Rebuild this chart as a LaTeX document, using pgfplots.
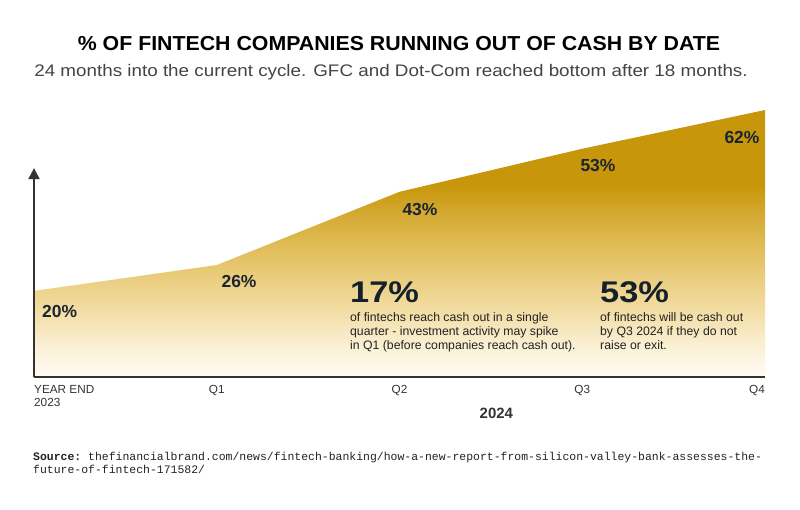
\documentclass[border=0pt]{standalone}
\usepackage{pgfplots}
\pgfplotsset{compat=1.18}
\usetikzlibrary{arrows.meta}
\usepackage{graphicx}
\usepackage{fontspec}
\setmainfont{Liberation Sans}
\setmonofont{Liberation Mono}
\definecolor{gold}{HTML}{C8960A}
\definecolor{gA}{HTML}{FFFCF5}
\definecolor{gB}{HTML}{FAEFD2}
\definecolor{gC}{HTML}{F2DDA4}
\definecolor{gD}{HTML}{EACD7E}
\definecolor{gE}{HTML}{E0BC55}
\definecolor{gF}{HTML}{D4A830}
\definecolor{axgray}{HTML}{333333}
\definecolor{subgray}{HTML}{444444}
\definecolor{numdark}{HTML}{1A2530}
\definecolor{bigdark}{HTML}{14212B}
\definecolor{txtdark}{HTML}{222222}
\pgfdeclareverticalshading{goldfade}{100bp}{color(0bp)=(gA); color(25bp)=(gA); color(31.2bp)=(gB); color(37.4bp)=(gC); color(43.6bp)=(gD); color(49.8bp)=(gE); color(56bp)=(gF); color(61bp)=(gold); color(100bp)=(gold)}
\newcommand\fs[1]{\fontsize{#1}{#1}\selectfont}
\begin{document}
\begin{tikzpicture}
\path[use as bounding box] (0,0) rectangle (800bp,510bp);
\node[font=\bfseries\fs{20.3}, inner sep=0] at (399bp,466bp) {\scalebox{1.054}[1]{\% OF FINTECH COMPANIES RUNNING OUT OF CASH BY DATE}};
\node[font=\fs{16.8}, text=subgray, inner sep=0] at (391bp,438bp) {\scalebox{1.125}[1]{24 months into the current cycle. GFC and Dot-Com reached bottom after 18 months.}};
\begin{axis}[at={(34bp,133bp)}, anchor=south west, scale only axis, width=731bp, height=267bp,
  xmin=0, xmax=4, ymin=0, ymax=62, hide axis, clip=false]
\addplot[draw=none, shading=goldfade] coordinates {(0,20) (1,26) (2,43) (3,53) (4,62)} \closedcycle;
\draw[line width=2.2bp, axgray] (axis cs:0,0) -- (axis cs:4,0);
\draw[line width=2bp, axgray, -{Triangle[width=11bp,length=11bp]}] (axis cs:0,0) -- (axis cs:0,48.5);
% data labels
\node[anchor=west, font=\bfseries\fs{17.5}, text=numdark, inner sep=0] at (axis cs:0.044,15.3) {20\%};
\node[font=\bfseries\fs{17.5}, text=numdark, inner sep=0] at (axis cs:1.122,22.1) {26\%};
\node[font=\bfseries\fs{17.5}, text=numdark, inner sep=0] at (axis cs:2.112,39.0) {43\%};
\node[font=\bfseries\fs{17.5}, text=numdark, inner sep=0] at (axis cs:3.086,49.0) {53\%};
\node[font=\bfseries\fs{17.5}, text=numdark, inner sep=0] at (axis cs:3.874,55.7) {62\%};
% big annotations
\node[anchor=base west, font=\bfseries\fs{30}, text=bigdark, inner sep=0] at (axis cs:1.729,17.2) {\scalebox{1.15}[1]{17\%}};
\node[anchor=base west, font=\fs{12.3}, text=txtdark, inner sep=0] at (axis cs:1.729,13.0) {of fintechs reach cash out in a single};
\node[anchor=base west, font=\fs{12.3}, text=txtdark, inner sep=0] at (axis cs:1.729,9.64) {quarter - investment activity may spike};
\node[anchor=base west, font=\fs{12.3}, text=txtdark, inner sep=0] at (axis cs:1.729,6.27) {in Q1 (before companies reach cash out).};
\node[anchor=base west, font=\bfseries\fs{30}, text=bigdark, inner sep=0] at (axis cs:3.097,17.2) {\scalebox{1.15}[1]{53\%}};
\node[anchor=base west, font=\fs{12.3}, text=txtdark, inner sep=0] at (axis cs:3.097,13.0) {of fintechs will be cash out};
\node[anchor=base west, font=\fs{12.3}, text=txtdark, inner sep=0] at (axis cs:3.097,9.64) {by Q3 2024 if they do not};
\node[anchor=base west, font=\fs{12.3}, text=txtdark, inner sep=0] at (axis cs:3.097,6.27) {raise or exit.};
% x labels
\node[anchor=north west, align=left, font=\fs{11.8}, text=axgray, inner sep=0] at (axis cs:0,-1.9) {YEAR END\\[1.2bp]2023};
\node[anchor=north, font=\fs{11.8}, text=axgray, inner sep=0] at (axis cs:1,-1.9) {Q1};
\node[anchor=north, font=\fs{11.8}, text=axgray, inner sep=0] at (axis cs:2,-1.9) {Q2};
\node[anchor=north, font=\fs{11.8}, text=axgray, inner sep=0] at (axis cs:3,-1.9) {Q3};
\node[anchor=north east, font=\fs{11.8}, text=axgray, inner sep=0] at (axis cs:4,-1.9) {Q4};
\node[font=\bfseries\fs{15}, text=axgray, inner sep=0] at (axis cs:2.53,-8.4) {2024};
\end{axis}
\node[anchor=base west, font=\fs{11.5}, text=txtdark, inner sep=0] at (33bp,49.5bp) {\ttfamily\textbf{Source:} thefinancialbrand.com/news/fintech-banking/how-a-new-report-from-silicon-valley-bank-assesses-the-};
\node[anchor=base west, font=\fs{11.5}, text=txtdark, inner sep=0] at (33bp,36.5bp) {\ttfamily future-of-fintech-171582/};
\end{tikzpicture}
\end{document}
